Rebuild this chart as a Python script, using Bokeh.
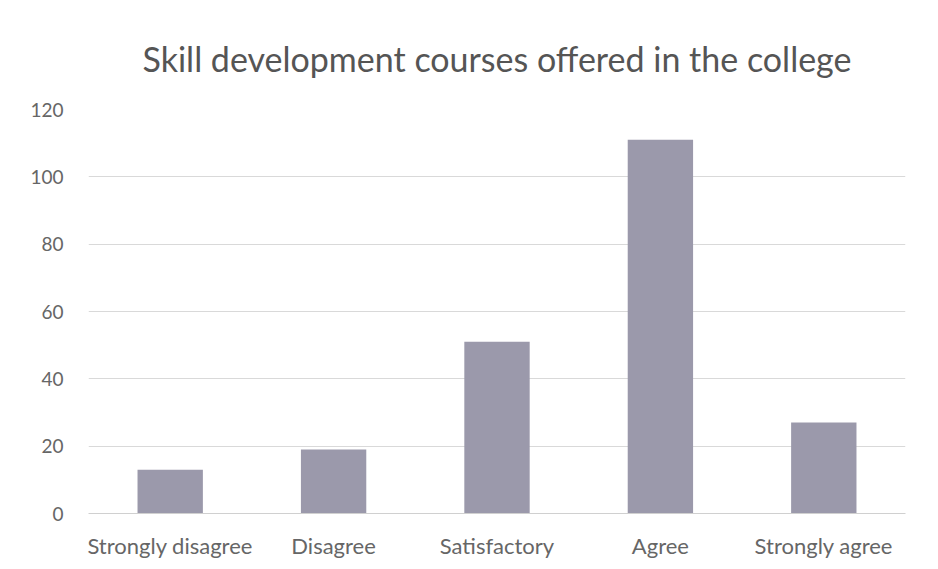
from bokeh.plotting import figure
from bokeh.models import ColumnDataSource, FixedTicker, Range1d
from bokeh.embed import file_html
from bokeh.resources import INLINE

title_text = "Skill development courses offered in the college"
categories = ["Strongly disagree", "Disagree", "Satisfactory", "Agree", "Strongly agree"]
counts = [13, 19, 51, 111, 27]
y_ticks = [0, 20, 40, 60, 80, 100, 120]

src = ColumnDataSource(data=dict(cat=categories, n=counts))

p = figure(x_range=categories, y_range=Range1d(0, 120), width=922, height=561,
           output_backend="svg", toolbar_location=None,
           min_border_left=88, min_border_right=17, min_border_top=109, min_border_bottom=48)

p.vbar(x="cat", top="n", width=0.4, source=src, fill_color="#9b99ab", line_color=None)

p.title.text = title_text
p.title.align = "center"
p.title.text_font = "Lato"
p.title.text_font_size = "34px"
p.title.text_font_style = "normal"
p.title.text_color = "#555555"
p.title.standoff = 62

p.background_fill_color = "white"
p.border_fill_color = "white"
p.outline_line_color = None

p.yaxis.ticker = FixedTicker(ticks=y_ticks)
p.yaxis.axis_line_color = None
p.yaxis.major_tick_line_color = None
p.yaxis.minor_tick_line_color = None
p.yaxis.major_label_text_font = "Lato"
p.yaxis.major_label_text_font_size = "19px"
p.yaxis.major_label_text_color = "#666666"
p.yaxis.major_label_standoff = 19

p.xaxis.axis_line_color = "#d0d0d0"
p.xaxis.major_tick_line_color = None
p.xaxis.minor_tick_line_color = None
p.xaxis.major_label_text_font = "Lato"
p.xaxis.major_label_text_font_size = "22px"
p.xaxis.major_label_text_color = "#666666"
p.xaxis.major_label_standoff = 12

p.xgrid.grid_line_color = None
p.ygrid.grid_line_color = "#d9d9d9"
p.ygrid.grid_line_width = 1

open("out.html", "w").write(file_html(p, INLINE))
